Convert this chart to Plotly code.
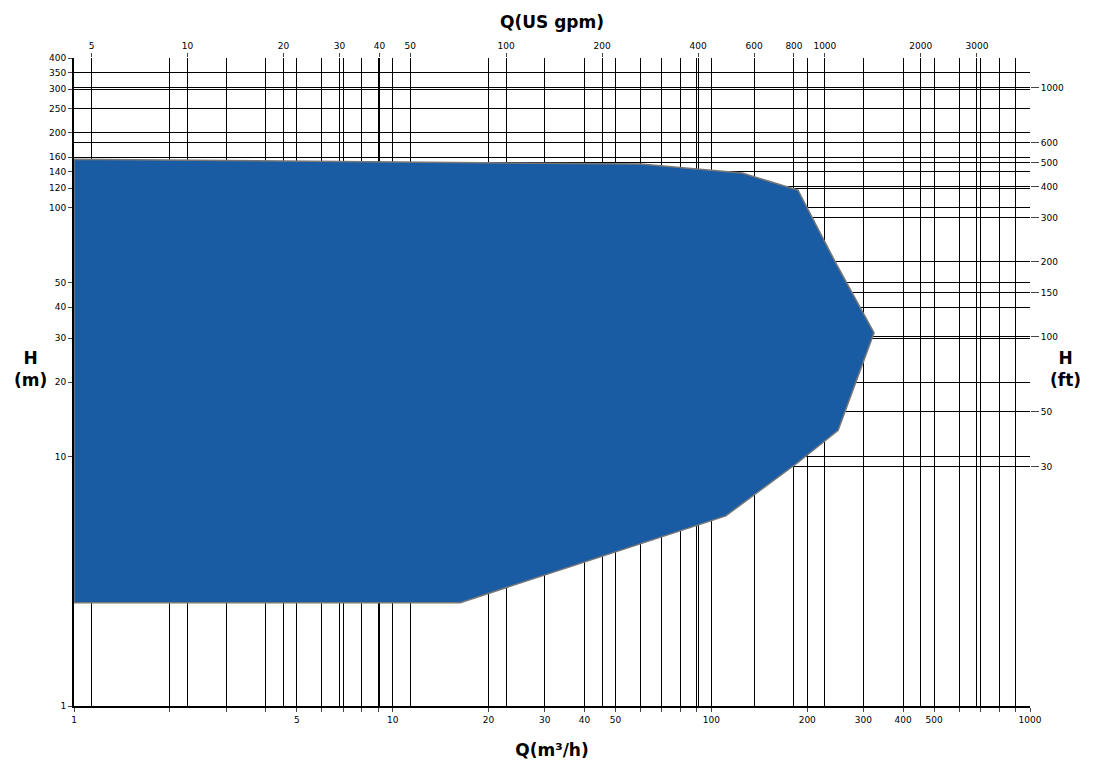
import plotly.graph_objects as go
import numpy as np

# envelope (Q m3/h, H m)
q_env = [1, 60, 125, 187, 246, 324, 250, 187, 111, 16.3, 1, 1]
h_env = [157, 150, 138, 118, 60, 31.5, 12.8, 9.5, 5.8, 2.6, 2.6, 157]

x_labels = [1, 5, 10, 20, 30, 40, 50, 100, 200, 300, 400, 500, 1000]
y_labels = [1, 10, 20, 30, 40, 50, 100, 120, 140, 160, 200, 250, 300, 350, 400]
gpm_labels = [5, 10, 20, 30, 40, 50, 100, 200, 400, 600, 800, 1000, 2000, 3000]
ft_labels = [30, 50, 100, 150, 200, 300, 400, 500, 600, 1000]
GPM = 4.403
FT = 3.281

xminor = [m * 10 ** d for d in range(0, 3) for m in range(1, 10)] + [1000]
xtext = [str(v) if v in x_labels else "" for v in xminor]

fig = go.Figure()
fig.add_trace(go.Scatter(x=q_env, y=h_env, fill="toself", fillcolor="#1a5ca4",
                         line=dict(color="#777777", width=1.5), mode="lines", hoverinfo="skip"))
fig.add_trace(go.Scatter(x=[10 * GPM], y=[10], xaxis="x2", yaxis="y", opacity=0, showlegend=False))
fig.add_trace(go.Scatter(x=[10], y=[10 * FT], xaxis="x", yaxis="y2", opacity=0, showlegend=False))

f = dict(family="DejaVu Sans", size=9, color="black")
tf = dict(family="DejaVu Sans", size=17, color="black")
fig.update_layout(
    width=1095, height=763, showlegend=False, plot_bgcolor="white", paper_bgcolor="white",
    font=dict(color="black"),
    margin=dict(l=66, r=73, t=50, b=65, autoexpand=False),
    xaxis=dict(type="log", range=[0, 3], tickvals=xminor, ticktext=xtext, showgrid=True, automargin=False,
               gridcolor="black", gridwidth=0.8, ticks="outside", ticklen=4, tickfont=f,
               showline=True, linecolor="black", linewidth=2, zeroline=False,
               title=dict(text="<b>Q(m³/h)</b>", font=tf, standoff=20)),
    xaxis2=dict(type="log", range=[np.log10(GPM), np.log10(1000 * GPM)], overlaying="x", side="top",
                tickvals=gpm_labels, ticktext=[str(v) for v in gpm_labels], showgrid=True, automargin=False,
                gridcolor="black", gridwidth=0.6,
                ticks="outside", ticklen=4, tickfont=f,
                title=dict(text="<b>Q(US gpm)</b>", font=tf, standoff=8)),
    yaxis=dict(type="log", range=[0, np.log10(400)], tickvals=y_labels, ticktext=[str(v) for v in y_labels],
               showgrid=True, gridcolor="black", gridwidth=0.8, ticks="outside", ticklen=4, tickfont=f,
               showline=True, linecolor="black", linewidth=2, zeroline=False, automargin=False),
    yaxis2=dict(type="log", range=[np.log10(FT), np.log10(400 * FT)], overlaying="y", side="right",
                tickvals=ft_labels, ticktext=[str(v) for v in ft_labels], showgrid=True, automargin=False,
                gridcolor="black", gridwidth=0.6, ticks="outside", ticklen=8, tickfont=f, zeroline=False),
)
fig.add_annotation(text="<b>H<br>(m)</b>", x=20, y=385, xref="paper", yref="paper",
                   showarrow=False, font=tf)
fig.layout.annotations[0].update(x=-0.045, y=0.52, xanchor="center")
fig.add_annotation(text="<b>H<br>(ft)</b>", x=1.055, y=0.52, xref="paper", yref="paper",
                   showarrow=False, font=tf)
fig.write_html("out.html")
